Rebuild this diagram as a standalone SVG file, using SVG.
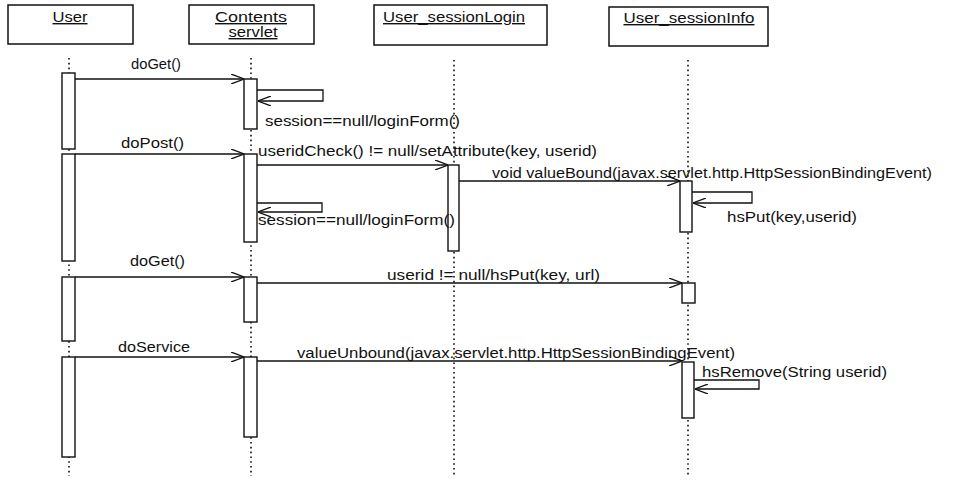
<svg xmlns="http://www.w3.org/2000/svg" width="954" height="480" viewBox="0 0 954 480">
<style>
  .box{fill:#fff;stroke:#111;stroke-width:1.5}
  .act{fill:#fff;stroke:#111;stroke-width:1.4}
  .life{stroke:#111;stroke-width:1.6;stroke-dasharray:1.6 3.2;fill:none}
  .msg{stroke:#111;stroke-width:1.3;fill:none;marker-end:url(#open)}
  .hd{font-family:"Liberation Sans",Arial,sans-serif;font-size:14px;fill:#111;text-anchor:middle;text-decoration:underline}
  .lb{font-family:"Liberation Sans",Arial,sans-serif;font-size:14px;fill:#111}
</style>
<defs>
  <marker id="open" viewBox="0 0 13 10" refX="13" refY="5" markerWidth="13" markerHeight="10" markerUnits="userSpaceOnUse" orient="auto">
    <path d="M0,0 L13,5 L0,10" fill="none" stroke="#111" stroke-width="1.3"/>
  </marker>
</defs>
<rect width="954" height="480" fill="#fff"/>

<g id="lifelines">
  <line class="life" x1="69" y1="58" x2="69" y2="476"/>
  <line class="life" x1="251" y1="58" x2="251" y2="476"/>
  <line class="life" x1="454" y1="60" x2="454" y2="476"/>
  <line class="life" x1="688" y1="60" x2="688" y2="476"/>
</g>

<g id="User">
  <rect class="box" x="8" y="5" width="125" height="39"/>
  <text class="hd" x="70" y="22" textLength="35" lengthAdjust="spacingAndGlyphs">User</text>
  <rect class="act" x="62" y="73" width="13" height="76"/>
  <rect class="act" x="62" y="154" width="13" height="107"/>
  <rect class="act" x="62" y="277" width="13" height="64"/>
  <rect class="act" x="62" y="357" width="13" height="100"/>
</g>

<g id="ContentsServlet">
  <rect class="box" x="189" y="5" width="125" height="39"/>
  <text class="hd" x="251" y="22" textLength="72" lengthAdjust="spacingAndGlyphs">Contents </text>
  <text class="hd" x="253" y="37" textLength="49" lengthAdjust="spacingAndGlyphs">servlet</text>
  <rect class="act" x="244" y="79" width="13" height="50"/>
  <rect class="act" x="244" y="154" width="13" height="88"/>
  <rect class="act" x="244" y="277" width="13" height="45"/>
  <rect class="act" x="244" y="357" width="13" height="80"/>
</g>

<g id="UserSessionLogin">
  <rect class="box" x="374" y="5" width="173" height="40"/>
  <text class="hd" x="454" y="22" textLength="142" lengthAdjust="spacingAndGlyphs">User_sessionLogin</text>
  <rect class="act" x="448" y="165" width="11" height="86"/>
</g>

<g id="UserSessionInfo">
  <rect class="box" x="609" y="7" width="159" height="39"/>
  <text class="hd" x="689" y="23" textLength="131" lengthAdjust="spacingAndGlyphs">User_sessionInfo</text>
  <rect class="act" x="680" y="181" width="12" height="51"/>
  <rect class="act" x="682" y="283" width="13" height="20"/>
  <rect class="act" x="682" y="362" width="12" height="56"/>
</g>

<g id="connectors">
  <line class="msg" x1="75" y1="79" x2="244" y2="79"/>
  <path class="msg" d="M257,90 H323 V101 H258"/>
  <line class="msg" x1="75" y1="154" x2="244" y2="154"/>
  <line class="msg" x1="257" y1="165" x2="448" y2="165"/>
  <line class="msg" x1="459" y1="181" x2="680" y2="181"/>
  <path class="msg" d="M257,203 H322 V212 H258"/>
  <path class="msg" d="M692,192 H752 V203 H693"/>
  <line class="msg" x1="75" y1="277" x2="244" y2="277"/>
  <line class="msg" x1="257" y1="283" x2="682" y2="283"/>
  <line class="msg" x1="75" y1="357" x2="244" y2="357"/>
  <line class="msg" x1="257" y1="361" x2="682" y2="361"/>
  <path class="msg" d="M694,380 H759 V389 H695"/>
</g>

<g id="labels">
  <text class="lb" x="131" y="69" textLength="50" lengthAdjust="spacingAndGlyphs">doGet()</text>
  <text class="lb" x="265" y="126" textLength="195" lengthAdjust="spacingAndGlyphs">session==null/loginForm()</text>
  <text class="lb" x="121" y="148" textLength="63" lengthAdjust="spacingAndGlyphs">doPost()</text>
  <text class="lb" x="258" y="156" textLength="339" lengthAdjust="spacingAndGlyphs">useridCheck() != null/setAttribute(key, userid)</text>
  <text class="lb" x="492" y="178" textLength="440" lengthAdjust="spacingAndGlyphs">void valueBound(javax.servlet.http.HttpSessionBindingEvent)</text>
  <text class="lb" x="727" y="222" textLength="130" lengthAdjust="spacingAndGlyphs">hsPut(key,userid)</text>
  <text class="lb" x="258" y="225" textLength="197" lengthAdjust="spacingAndGlyphs">session==null/loginForm()</text>
  <text class="lb" x="130" y="266" textLength="55" lengthAdjust="spacingAndGlyphs">doGet()</text>
  <text class="lb" x="387" y="280" textLength="213" lengthAdjust="spacingAndGlyphs">userid != null/hsPut(key, url)</text>
  <text class="lb" x="118" y="352" textLength="72" lengthAdjust="spacingAndGlyphs">doService</text>
  <text class="lb" x="297" y="358" textLength="438" lengthAdjust="spacingAndGlyphs">valueUnbound(javax.servlet.http.HttpSessionBindingEvent)</text>
  <text class="lb" x="702" y="377" textLength="185" lengthAdjust="spacingAndGlyphs">hsRemove(String userid)</text>
</g>
</svg>
